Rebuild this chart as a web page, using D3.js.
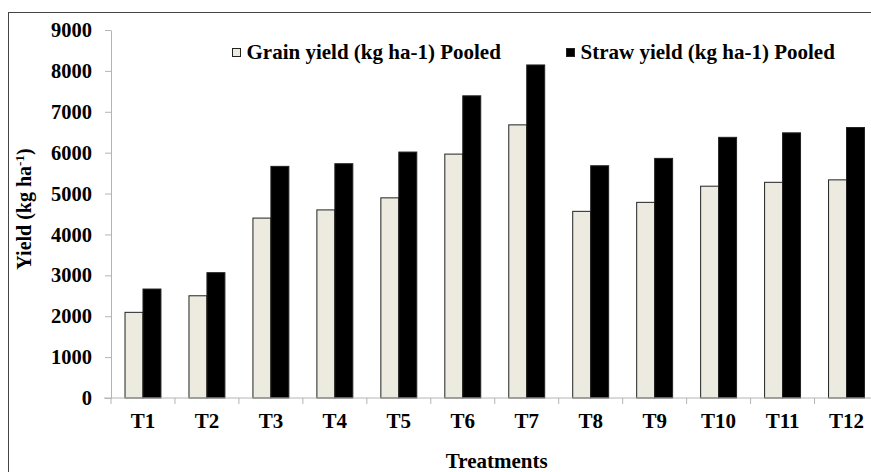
<!DOCTYPE html>
<html>
<head>
<meta charset="utf-8">
<script src="https://cdn.jsdelivr.net/npm/d3@7"></script>
<style>
  body { margin: 0; background: #fff; }
  svg text { font-family: "Liberation Serif", "Times New Roman", serif; font-weight: bold; fill: #000; }
</style>
</head>
<body>
<svg id="chart" width="871" height="472"></svg>
<script>
// treatments and pooled yields (kg/ha)
const treatments = ["T1", "T2", "T3", "T4", "T5", "T6", "T7", "T8", "T9", "T10", "T11", "T12"];
const grainYield = [2095, 2500, 4400, 4600, 4895, 5965, 6680, 4565, 4785, 5180, 5275, 5335];
const strawYield = [2665, 3065, 5665, 5730, 6015, 7390, 8145, 5680, 5860, 6375, 6485, 6615];
const seriesNames = ["Grain yield (kg ha-1) Pooled", "Straw yield (kg ha-1) Pooled"];
const yTicks = [0, 1000, 2000, 3000, 4000, 5000, 6000, 7000, 8000, 9000];

const fills = ["#edeae0", "#000"];
const axisColor = "#b4b4b4";

const svg = d3.select("#chart");
const plotLeft = 111, plotRight = 878.5, plotTop = 30, plotBottom = 398;

// frame of the figure (runs off the bottom/right like the original)
svg.append("rect")
  .attr("x", 8.5).attr("y", 12.5)
  .attr("width", 1000).attr("height", 1000)
  .attr("fill", "none").attr("stroke", "#444").attr("stroke-width", 1);

const x = d3.scaleBand().domain(treatments).range([plotLeft, plotRight]).padding(0);
const xs = d3.scaleBand().domain([0, 1]).range([0, x.bandwidth()]).paddingInner(0).paddingOuter(0.78);
const y = d3.scaleLinear().domain([0, 9000]).range([plotBottom, plotTop]);

// y axis
const yAxis = svg.append("g")
  .attr("transform", `translate(${plotLeft},0)`)
  .call(d3.axisLeft(y).tickValues(yTicks).tickFormat(d3.format("d"))
    .tickSize(6).tickPadding(13).tickSizeOuter(0));
yAxis.select(".domain").attr("stroke", axisColor);
yAxis.selectAll(".tick line").attr("stroke", axisColor);
yAxis.selectAll(".tick text").style("font-size", "20.5px");

// bars
const groups = svg.append("g").selectAll("g")
  .data(treatments)
  .join("g")
  .attr("transform", d => `translate(${x(d)},0)`);

groups.selectAll("rect")
  .data((d, i) => [grainYield[i], strawYield[i]])
  .join("rect")
  .attr("x", (d, j) => xs(j))
  .attr("y", d => y(d))
  .attr("width", xs.bandwidth())
  .attr("height", d => plotBottom - y(d))
  .attr("fill", (d, j) => fills[j])
  .attr("stroke", "#222")
  .attr("stroke-width", 1);

// x axis: ticks on category boundaries
const xAxis = svg.append("g").attr("transform", `translate(0,${plotBottom})`);
xAxis.append("line")
  .attr("x1", plotLeft - 7).attr("x2", 871)
  .attr("stroke", axisColor);
xAxis.selectAll("line.tk")
  .data(treatments)
  .join("line")
  .attr("class", "tk")
  .attr("x1", d => x(d)).attr("x2", d => x(d))
  .attr("y1", 0).attr("y2", 6)
  .attr("stroke", axisColor);
xAxis.selectAll("text")
  .data(treatments)
  .join("text")
  .attr("x", d => x(d) + x.bandwidth() / 2)
  .attr("y", 29.5)
  .attr("text-anchor", "middle")
  .style("font-size", "21px")
  .text(d => d);

// axis titles
const yTitle = svg.append("text")
  .attr("transform", `translate(31,${(plotTop + plotBottom) / 2 - 5}) rotate(-90)`)
  .attr("text-anchor", "middle")
  .style("font-size", "20px");
yTitle.append("tspan").text("Yield (kg ha");
yTitle.append("tspan").attr("dy", -7).style("font-size", "13px").text("-1");
yTitle.append("tspan").attr("dy", 7).text(")");

svg.append("text")
  .attr("x", (plotLeft + plotRight) / 2 + 2)
  .attr("y", 468)
  .attr("text-anchor", "middle")
  .style("font-size", "21px")
  .text("Treatments");

// legend
const legendX = [232, 566];
const legend = svg.append("g").selectAll("g")
  .data(seriesNames)
  .join("g")
  .attr("transform", (d, i) => `translate(${legendX[i]},0)`);
legend.append("rect")
  .attr("x", 0.5).attr("y", 48.5).attr("width", 8).attr("height", 8)
  .attr("fill", (d, i) => fills[i]).attr("stroke", "#222");
legend.append("text")
  .attr("x", 14.5).attr("y", 58.5)
  .style("font-size", "21px")
  .text(d => d);
</script>
</body>
</html>
